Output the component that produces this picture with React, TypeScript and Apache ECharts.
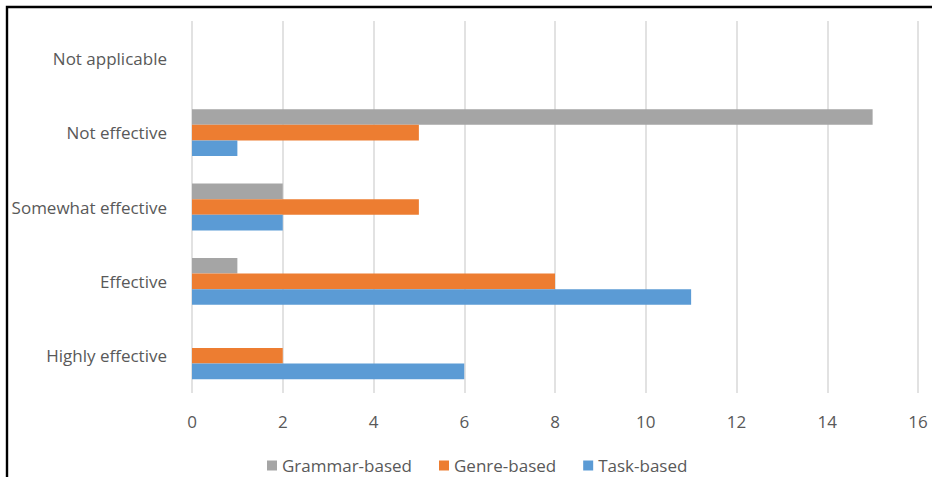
import React, { useEffect, useRef } from "react";
import * as echarts from "echarts";

const categories = ["Highly effective", "Effective", "Somewhat effective", "Not effective", "Not applicable"];
const taskBased = [6, 11, 2, 1, 0];
const genreBased = [2, 8, 5, 5, 0];
const grammarBased = [0, 1, 2, 15, 0];
const xTicks = [0, 2, 4, 6, 8, 10, 12, 14, 16];

const FONT = "'Open Sans', sans-serif";
const TEXT = "#595959";

export default function App() {
  const ref = useRef<HTMLDivElement>(null);
  useEffect(() => {
    if (!ref.current) return;
    const chart = echarts.init(ref.current, undefined, { renderer: "svg" });
    chart.setOption({
      animation: false,
      backgroundColor: "#ffffff",
      textStyle: { fontFamily: FONT },
      graphic: [
        {
          type: "rect",
          shape: { x: 7, y: 7, width: 2000, height: 2000 },
          style: { fill: "none", stroke: "#000000", lineWidth: 2.4 },
          silent: true,
        },
      ],
      grid: { left: 192, right: 14, top: 21, bottom: 84 },
      legend: {
        data: ["Grammar-based", "Genre-based", "Task-based"],
        left: 262,
        top: 452,
        icon: "rect",
        itemWidth: 10,
        itemHeight: 10,
        itemGap: 27,
        textStyle: { color: TEXT, fontSize: 17, fontFamily: FONT },
      },
      xAxis: {
        type: "value",
        min: xTicks[0],
        max: xTicks[xTicks.length - 1],
        interval: 2,
        axisLine: { show: false },
        axisTick: { show: false },
        splitLine: { show: true, lineStyle: { color: "#d9d9d9", width: 1.5 } },
        axisLabel: { color: TEXT, fontSize: 17, fontFamily: FONT, margin: 20 },
      },
      yAxis: {
        type: "category",
        data: categories,
        axisLine: { show: false },
        axisTick: { show: false },
        splitLine: { show: false },
        axisLabel: { color: TEXT, fontSize: 17, fontFamily: FONT, margin: 25 },
      },
      series: [
        { name: "Grammar-based", type: "bar", data: grammarBased, barWidth: 15.6, barGap: "0%", itemStyle: { color: "#A5A5A5" } },
        { name: "Genre-based", type: "bar", data: genreBased, barWidth: 15.6, barGap: "0%", itemStyle: { color: "#ED7D31" } },
        { name: "Task-based", type: "bar", data: taskBased, barWidth: 15.6, barGap: "0%", itemStyle: { color: "#5B9BD5" } },
      ],
    });
    return () => chart.dispose();
  }, []);
  return (
    <div
      ref={ref}
      style={{ position: "fixed", left: 0, top: 0, width: 932, height: 477 }}
    />
  );
}
